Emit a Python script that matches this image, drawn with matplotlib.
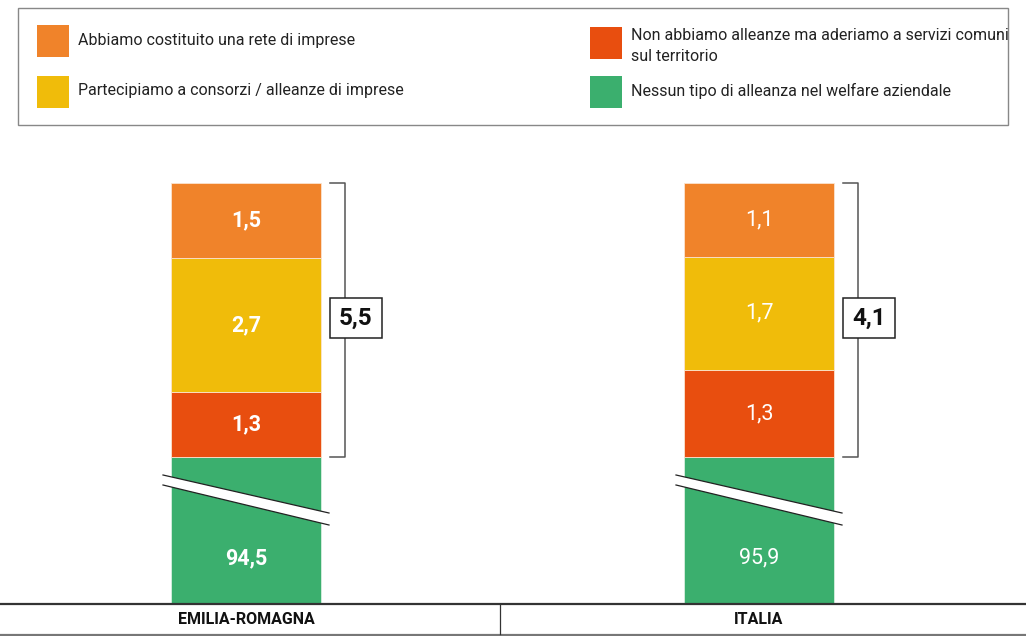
import matplotlib
matplotlib.use("Agg")
import matplotlib.pyplot as plt
from matplotlib.patches import Rectangle, Polygon

# ---- data ----
regions = ["EMILIA-ROMAGNA", "ITALIA"]
series = ["Abbiamo costituito una rete di imprese",
          "Partecipiamo a consorzi / alleanze di imprese",
          "Non abbiamo alleanze ma aderiamo a servizi comuni\nsul territorio",
          "Nessun tipo di alleanza nel welfare aziendale"]
rete = [1.5, 1.1]
consorzi = [2.7, 1.7]
servizi = [1.3, 1.3]
nessuna = [94.5, 95.9]
totale_alleanze = ["5,5", "4,1"]
colors = ["#F0832A", "#F0BC0A", "#E84E0F", "#3BAF6E"]

plt.rcParams['font.family'] = ['Roboto', 'DejaVu Sans']

W, H = 1026, 636
fig = plt.figure(figsize=(W / 100, H / 100), dpi=100)
ax = fig.add_axes([0, 0, 1, 1])
ax.set_xlim(0, W)
ax.set_ylim(H, 0)
ax.axis('off')

centers = [246, 759]
bw = 150
base = 603          # bottom of bars
green_span = 146    # displayed height for broken green segment
top_span = 274      # displayed height for alliance segments
weights = ['bold', 'normal']

for i, cx in enumerate(centers):
    # green (broken) segment
    ax.bar(cx, -green_span, bottom=base, width=bw, color=colors[3],
           edgecolor='#d8efe0', linewidth=0.6)
    ax.text(cx, base - 45, f"{nessuna[i]:.1f}".replace('.', ','), ha='center', va='center',
            color='white', fontsize=15.5, fontweight=weights[i])
    # alliance segments, scaled to fill top_span
    vals = [servizi[i], consorzi[i], rete[i]]
    cols = [colors[2], colors[1], colors[0]]
    s = sum(vals)
    bottom = base - green_span
    for v, c in zip(vals, cols):
        h = v / s * top_span
        ax.bar(cx, -h, bottom=bottom, width=bw, color=c, edgecolor='#fbe3cf', linewidth=0.6)
        ax.text(cx, bottom - h / 2, f"{v:.1f}".replace('.', ','), ha='center', va='center',
                color='white', fontsize=15.5, fontweight=weights[i])
        bottom -= h
    # break mark
    x0, x1 = cx - bw / 2 - 8, cx + bw / 2 + 8
    yl0, yl1 = 475, 513
    band = Polygon([[x0, yl0], [x1, yl1], [x1, yl1 + 12], [x0, yl0 + 10]],
                   closed=True, facecolor='white', edgecolor='none', zorder=3)
    ax.add_patch(band)
    ax.plot([x0, x1], [yl0, yl1], color='#222222', lw=0.9, zorder=4)
    ax.plot([x0, x1], [yl0 + 10, yl1 + 12], color='#222222', lw=0.9, zorder=4)
    # bracket
    bx = cx + bw / 2 + 24
    ytop, ybot = base - green_span - top_span, base - green_span
    ax.plot([bx - 15, bx, bx, bx - 15], [ytop, ytop, ybot, ybot], color='#555555', lw=1.1)
    box_w, box_h = 52, 40
    ymid = 318
    ax.add_patch(Rectangle((bx - 15, ymid - box_h / 2), box_w, box_h, facecolor='white',
                           edgecolor='#222222', lw=1.1, zorder=5))
    ax.text(bx - 15 + box_w / 2, ymid, totale_alleanze[i], ha='center', va='center',
            fontsize=17.5, fontweight='bold', color='#111111', zorder=6)
    # category label
    ax.text(cx, 620, regions[i], ha='center', va='center', fontsize=11.5,
            fontweight='bold', color='#111111')

# bottom axis lines
ax.plot([0, W], [603.5, 603.5], color='#333333', lw=1.6)
ax.plot([0, W], [634.5, 634.5], color='#777777', lw=1.6)
ax.plot([499.5, 499.5], [603.5, 634], color='#333333', lw=0.9)

# legend
ax.add_patch(Rectangle((17.5, 7.5), 990, 117, facecolor='none', edgecolor='#888888', lw=1.0))
leg = [(37, 25, 0, 41), (37, 76, 1, 91), (590, 27, 2, 46), (590, 76, 3, 91)]
for x, y, k, ty in leg:
    ax.add_patch(Rectangle((x, y), 32, 32, facecolor=colors[k], edgecolor='none'))
    ax.text(x + 41, ty, series[k], ha='left', va='center', fontsize=11.5,
            color='#222222', linespacing=1.5)

fig.savefig("out.png", dpi=100)
